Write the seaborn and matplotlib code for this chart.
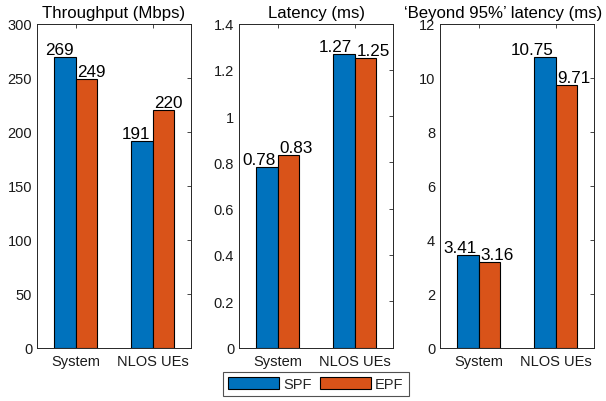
import matplotlib
matplotlib.use("Agg")
import matplotlib.pyplot as plt
import seaborn as sns
import pandas as pd
from matplotlib.patches import Patch

groups = ["System", "NLOS UEs"]
schemes = ["SPF", "EPF"]
throughput_spf = [269, 191]
throughput_epf = [249, 220]
latency_spf = [0.78, 1.27]
latency_epf = [0.83, 1.25]
beyond_spf = [3.41, 10.75]
beyond_epf = [3.16, 9.71]

titles = ["Throughput (Mbps)", "Latency (ms)", "\u2018Beyond 95%\u2019 latency (ms)"]
ylims = [(0, 300), (0, 1.4), (0, 12)]
yticks = [
    [0, 50, 100, 150, 200, 250, 300],
    [0, 0.2, 0.4, 0.6, 0.8, 1.0, 1.2, 1.4],
    [0, 2, 4, 6, 8, 10, 12],
]
ytick_labels = [
    ["0", "50", "100", "150", "200", "250", "300"],
    ["0", "0.2", "0.4", "0.6", "0.8", "1", "1.2", "1.4"],
    ["0", "2", "4", "6", "8", "10", "12"],
]
fmts = ["{:d}", "{:.2f}", "{:.2f}"]
colors = ["#0072BD", "#D95319"]


def _long(spf, epf):
    rows = []
    for g, a, b in zip(groups, spf, epf):
        rows.append({"group": g, "scheme": "SPF", "value": a})
        rows.append({"group": g, "scheme": "EPF", "value": b})
    return pd.DataFrame(rows)


frames = [
    _long(throughput_spf, throughput_epf),
    _long(latency_spf, latency_epf),
    _long(beyond_spf, beyond_epf),
]

sns.set_style("white")
plt.rcParams["font.family"] = ["Liberation Sans", "DejaVu Sans"]

fig = plt.figure(figsize=(6.06, 4.02), dpi=100)
W, H = 606, 402
lefts = [37, 239, 440]
width = 154
top, bottom = 24.5, 348.5
edge = "#262626"
title_x = [0.5, 0.5, 0.41]

for i, df in enumerate(frames):
    ax = fig.add_axes([lefts[i] / W, 1 - bottom / H, width / W, (bottom - top) / H])
    sns.barplot(data=df, x="group", y="value", hue="scheme", order=groups,
                hue_order=schemes, palette=colors, width=0.56, saturation=1,
                edgecolor="black", linewidth=0.8, legend=False, ax=ax)
    # blue labels end at the group centre, orange labels start there
    for k, c in enumerate(ax.containers):
        for p in c.patches:
            h = p.get_height()
            if k == 0:
                x, ha, dx = p.get_x() + p.get_width(), "right", -1.5
            else:
                x, ha, dx = p.get_x(), "left", 1.5
            txt = fmts[i].format(int(round(h))) if i == 0 else fmts[i].format(h)
            ax.annotate(txt, (x, h), xytext=(dx, 0), textcoords="offset points",
                        ha=ha, va="bottom", fontsize=12.3, color="black")
    ax.set_xlim(-0.5, 1.5)
    ax.set_ylim(*ylims[i])
    ax.set_yticks(yticks[i])
    ax.set_yticklabels(ytick_labels[i])
    ax.set_xlabel("")
    ax.set_ylabel("")
    ax.set_title(titles[i], fontsize=12.1, pad=4.5, color="black", x=title_x[i])
    ax.tick_params(direction="in", length=3, width=0.6, colors=edge,
                   labelsize=10.5, top=True, right=True, labelcolor="#1a1a1a")
    ax.tick_params(axis="x", length=3, pad=5)
    for s in ax.spines.values():
        s.set_visible(True)
        s.set_color(edge)
        s.set_linewidth(0.7)

handles = [Patch(facecolor=colors[0], edgecolor="black", linewidth=0.8, label="SPF"),
           Patch(facecolor=colors[1], edgecolor="black", linewidth=0.8, label="EPF")]
leg = fig.legend(handles=handles, ncol=2, loc="center", bbox_to_anchor=(316 / W, 1 - 385 / H),
                 fontsize=10.5, frameon=True, fancybox=False, handlelength=3.5,
                 handleheight=0.85, handletextpad=0.25, columnspacing=0.6,
                 borderpad=0.35, borderaxespad=0)
leg.get_frame().set_edgecolor(edge)
leg.get_frame().set_linewidth(0.8)

fig.savefig("out.png", dpi=100)
